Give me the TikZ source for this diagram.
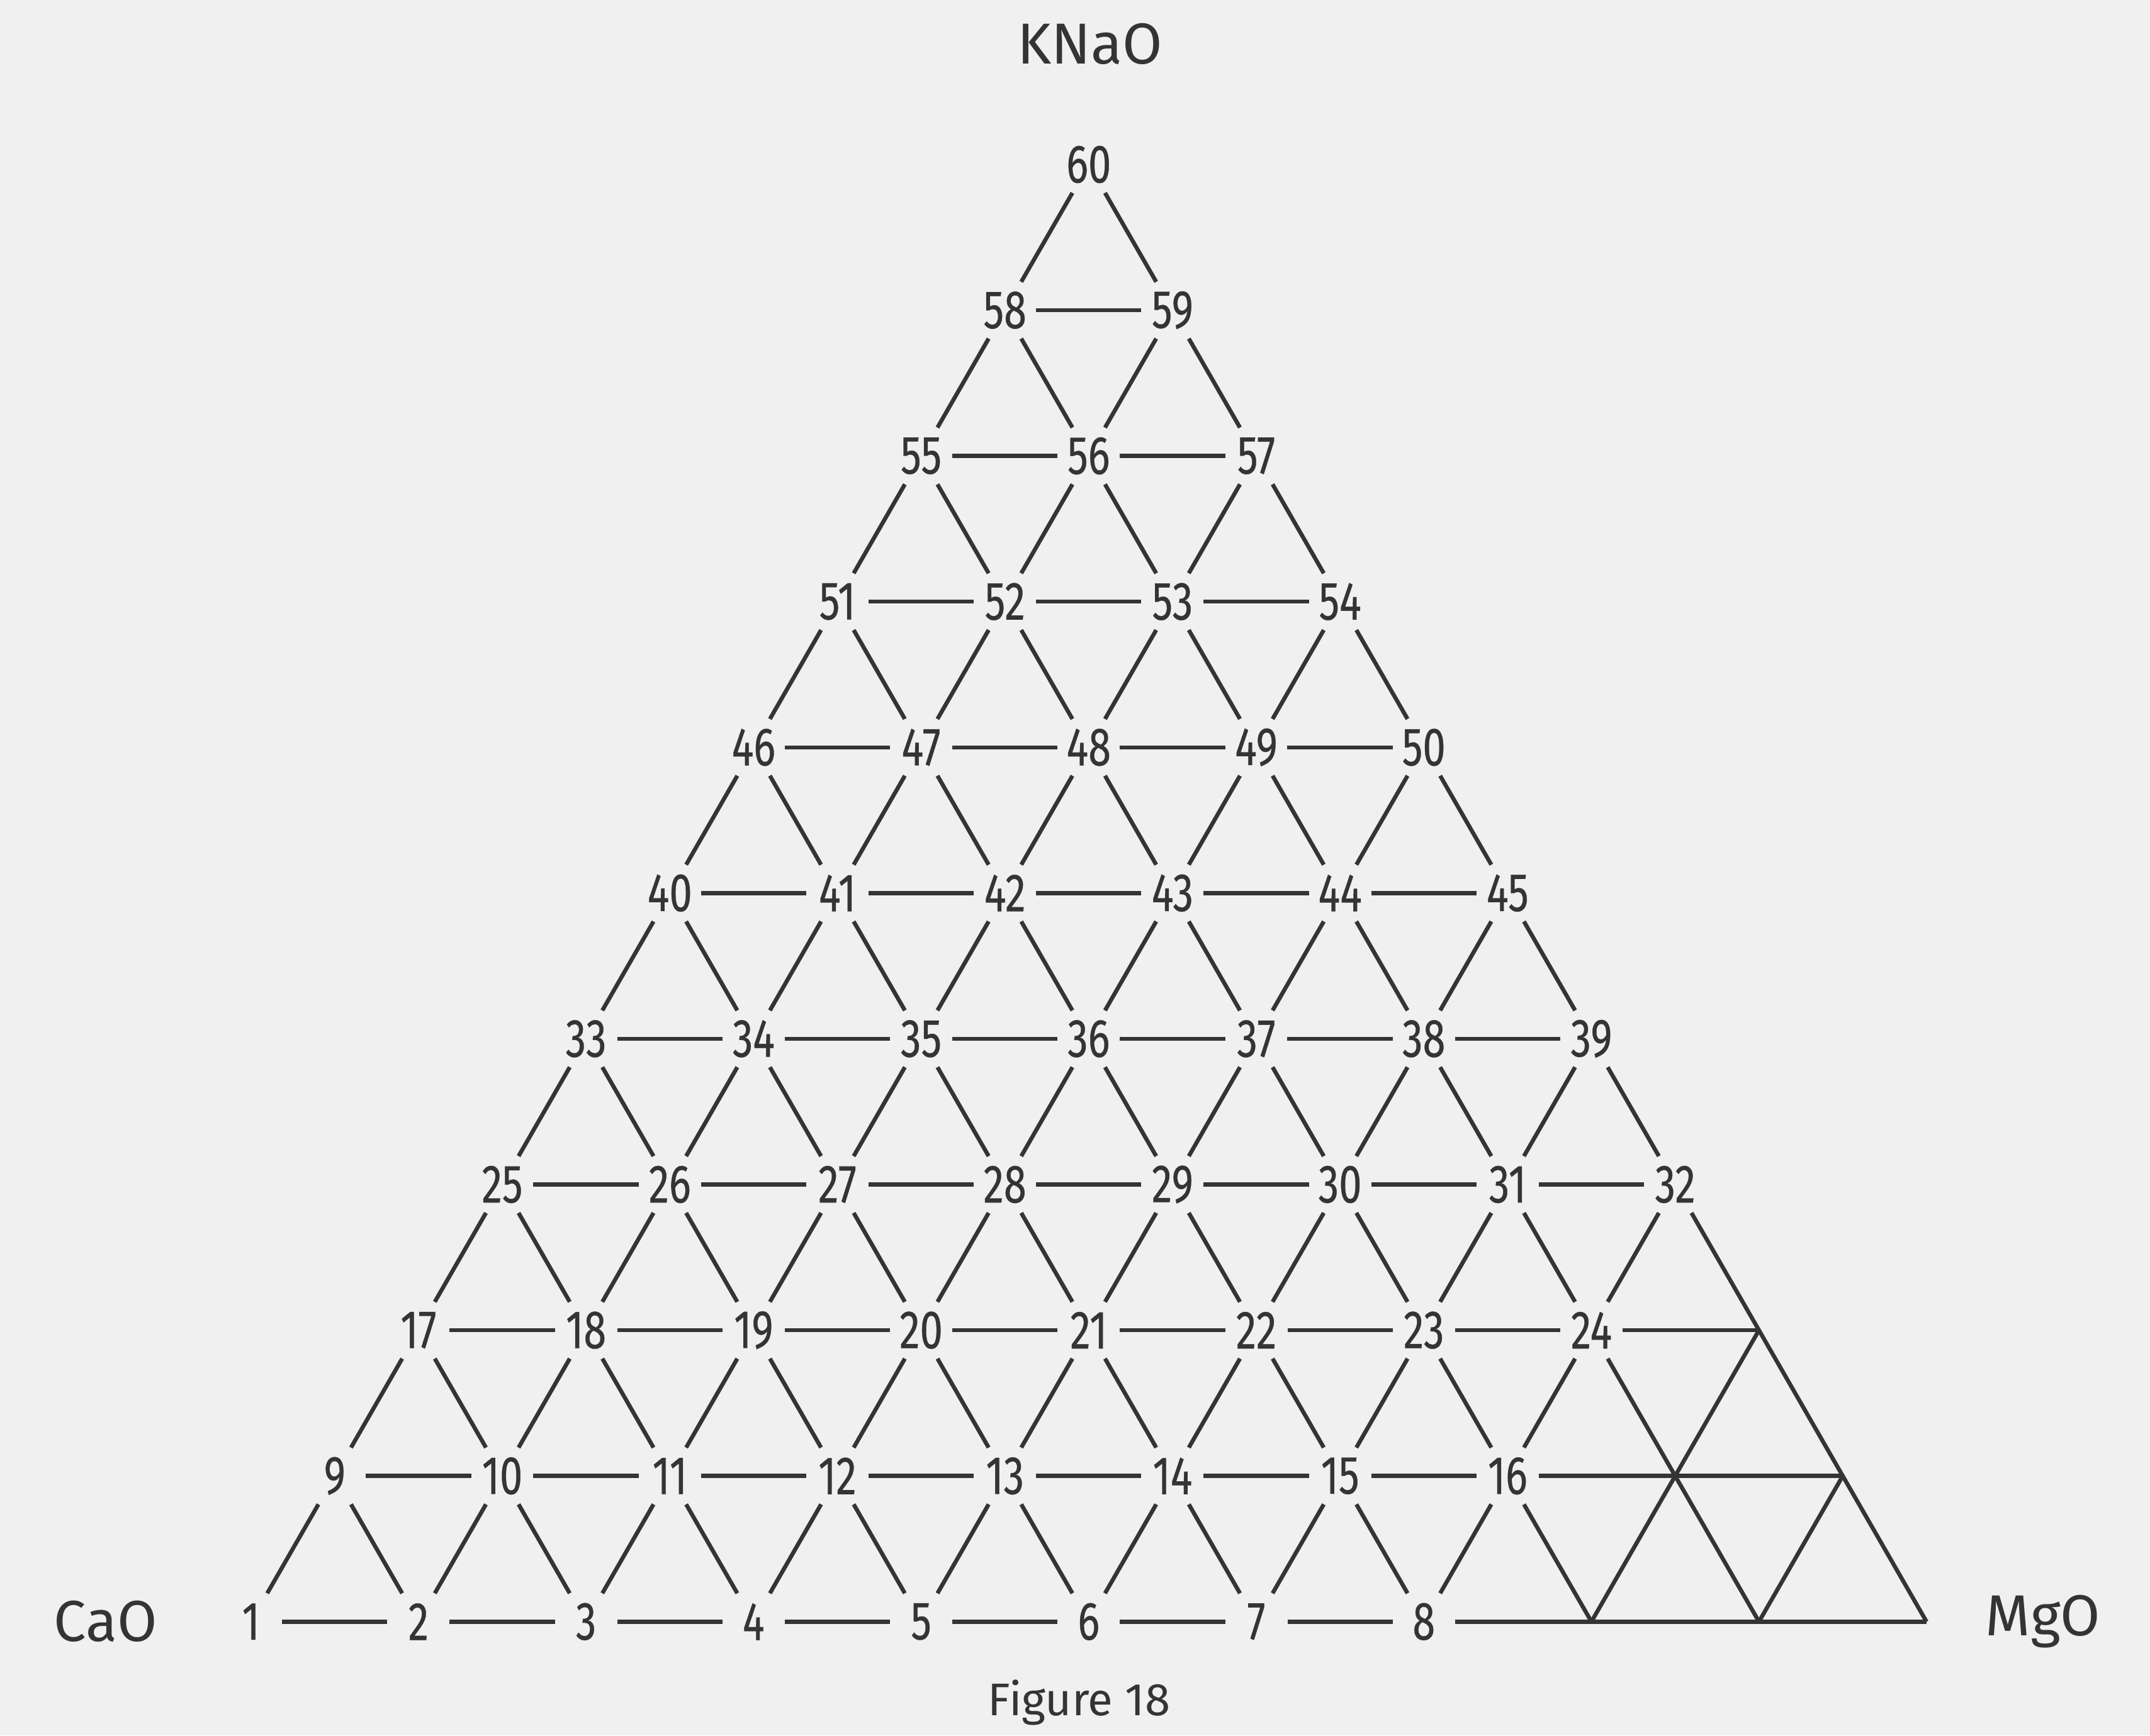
\documentclass[tikz,border=0pt]{standalone}
\usepackage{fontspec}
\setmainfont{Fira Sans}
\newfontfamily\numfont[FakeStretch=0.76, FakeBold=0.4]{Fira Sans}
\usepackage[dvipsnames]{xcolor}
\definecolor{diagInk}{RGB}{52, 52, 52}
\definecolor{diagPaper}{RGB}{240, 240, 240}
\usepackage{tikz}

\begin{document}
\begin{tikzpicture}[
  num/.style={font=\numfont\fontsize{11.2}{12}\selectfont, text=diagInk,
              minimum width=0.44cm, minimum height=0.40cm, inner sep=0pt},
  oxide/.style={font=\fontsize{12}{14}\selectfont, text=diagInk, inner sep=0pt},
  caption/.style={font=\fontsize{9.5}{11}\selectfont, text=diagInk, inner sep=0pt},
  edge/.style={draw=diagInk, line width=0.85pt},
]
  \useasboundingbox (0,0) rectangle (15.68,12.66);
  \fill[diagPaper] (0,0) rectangle (15.68,12.66);

  \begin{scope}[shift={(1.83,0.83)}, x={(1.222cm,0cm)}, y={(0.611cm,1.063cm)}]
    \node[num] (n1) at (0,0) {1}; \node[num] (n2) at (1,0) {2}; \node[num] (n3) at (2,0) {3}; \node[num] (n4) at (3,0) {4};
    \node[num] (n5) at (4,0) {5}; \node[num] (n6) at (5,0) {6}; \node[num] (n7) at (6,0) {7}; \node[num] (n8) at (7,0) {8};
    \coordinate (x80) at (8,0); \coordinate (x90) at (9,0); \coordinate (x100) at (10,0);

    \node[num] (n9) at (0,1) {9}; \node[num] (n10) at (1,1) {10}; \node[num] (n11) at (2,1) {11}; \node[num] (n12) at (3,1) {12};
    \node[num] (n13) at (4,1) {13}; \node[num] (n14) at (5,1) {14}; \node[num] (n15) at (6,1) {15}; \node[num] (n16) at (7,1) {16};
    \coordinate (x81) at (8,1); \coordinate (x91) at (9,1);

    \node[num] (n17) at (0,2) {17}; \node[num] (n18) at (1,2) {18}; \node[num] (n19) at (2,2) {19}; \node[num] (n20) at (3,2) {20};
    \node[num] (n21) at (4,2) {21}; \node[num] (n22) at (5,2) {22}; \node[num] (n23) at (6,2) {23}; \node[num] (n24) at (7,2) {24};
    \coordinate (x82) at (8,2);

    \node[num] (n25) at (0,3) {25}; \node[num] (n26) at (1,3) {26}; \node[num] (n27) at (2,3) {27}; \node[num] (n28) at (3,3) {28};
    \node[num] (n29) at (4,3) {29}; \node[num] (n30) at (5,3) {30}; \node[num] (n31) at (6,3) {31}; \node[num] (n32) at (7,3) {32};

    \node[num] (n33) at (0,4) {33}; \node[num] (n34) at (1,4) {34}; \node[num] (n35) at (2,4) {35}; \node[num] (n36) at (3,4) {36};
    \node[num] (n37) at (4,4) {37}; \node[num] (n38) at (5,4) {38}; \node[num] (n39) at (6,4) {39};

    \node[num] (n40) at (0,5) {40}; \node[num] (n41) at (1,5) {41}; \node[num] (n42) at (2,5) {42};
    \node[num] (n43) at (3,5) {43}; \node[num] (n44) at (4,5) {44}; \node[num] (n45) at (5,5) {45};

    \node[num] (n46) at (0,6) {46}; \node[num] (n47) at (1,6) {47}; \node[num] (n48) at (2,6) {48};
    \node[num] (n49) at (3,6) {49}; \node[num] (n50) at (4,6) {50};

    \node[num] (n51) at (0,7) {51}; \node[num] (n52) at (1,7) {52}; \node[num] (n53) at (2,7) {53}; \node[num] (n54) at (3,7) {54};
    \node[num] (n55) at (0,8) {55}; \node[num] (n56) at (1,8) {56}; \node[num] (n57) at (2,8) {57};
    \node[num] (n58) at (0,9) {58}; \node[num] (n59) at (1,9) {59};
    \node[num] (n60) at (0,10) {60};
  \end{scope}

  \draw[edge] (n1) -- (n2) -- (n3) -- (n4) -- (n5) -- (n6) -- (n7) -- (n8) -- (x80) -- (x90) -- (x100);
  \draw[edge] (n9) -- (n10) -- (n11) -- (n12) -- (n13) -- (n14) -- (n15) -- (n16) -- (x81) -- (x91);
  \draw[edge] (n17) -- (n18) -- (n19) -- (n20) -- (n21) -- (n22) -- (n23) -- (n24) -- (x82);
  \draw[edge] (n25) -- (n26) -- (n27) -- (n28) -- (n29) -- (n30) -- (n31) -- (n32);
  \draw[edge] (n33) -- (n34) -- (n35) -- (n36) -- (n37) -- (n38) -- (n39);
  \draw[edge] (n40) -- (n41) -- (n42) -- (n43) -- (n44) -- (n45);
  \draw[edge] (n46) -- (n47) -- (n48) -- (n49) -- (n50);
  \draw[edge] (n51) -- (n52) -- (n53) -- (n54);
  \draw[edge] (n55) -- (n56) -- (n57);
  \draw[edge] (n58) -- (n59);

  \draw[edge] (n1) -- (n9) -- (n17) -- (n25) -- (n33) -- (n40) -- (n46) -- (n51) -- (n55) -- (n58) -- (n60);
  \draw[edge] (n2) -- (n10) -- (n18) -- (n26) -- (n34) -- (n41) -- (n47) -- (n52) -- (n56) -- (n59);
  \draw[edge] (n3) -- (n11) -- (n19) -- (n27) -- (n35) -- (n42) -- (n48) -- (n53) -- (n57);
  \draw[edge] (n4) -- (n12) -- (n20) -- (n28) -- (n36) -- (n43) -- (n49) -- (n54);
  \draw[edge] (n5) -- (n13) -- (n21) -- (n29) -- (n37) -- (n44) -- (n50);
  \draw[edge] (n6) -- (n14) -- (n22) -- (n30) -- (n38) -- (n45);
  \draw[edge] (n7) -- (n15) -- (n23) -- (n31) -- (n39);
  \draw[edge] (n8) -- (n16) -- (n24) -- (n32);
  \draw[edge] (x80) -- (x81) -- (x82);
  \draw[edge] (x90) -- (x91);

  \draw[edge] (n2) -- (n9);
  \draw[edge] (n3) -- (n10) -- (n17);
  \draw[edge] (n4) -- (n11) -- (n18) -- (n25);
  \draw[edge] (n5) -- (n12) -- (n19) -- (n26) -- (n33);
  \draw[edge] (n6) -- (n13) -- (n20) -- (n27) -- (n34) -- (n40);
  \draw[edge] (n7) -- (n14) -- (n21) -- (n28) -- (n35) -- (n41) -- (n46);
  \draw[edge] (n8) -- (n15) -- (n22) -- (n29) -- (n36) -- (n42) -- (n47) -- (n51);
  \draw[edge] (x80) -- (n16) -- (n23) -- (n30) -- (n37) -- (n43) -- (n48) -- (n52) -- (n55);
  \draw[edge] (x90) -- (x81) -- (n24) -- (n31) -- (n38) -- (n44) -- (n49) -- (n53) -- (n56) -- (n58);
  \draw[edge] (x100) -- (x91) -- (x82) -- (n32) -- (n39) -- (n45) -- (n50) -- (n54) -- (n57) -- (n59) -- (n60);

  \node[oxide] (knao) at (7.95,12.34) {KNaO};
  \node[oxide] (cao) at (0.77,0.83) {CaO};
  \node[oxide] (mgo) at (14.90,0.83) {MgO};
  \node[caption] (fig) at (7.87,0.24) {Figure 18};
\end{tikzpicture}
\end{document}
